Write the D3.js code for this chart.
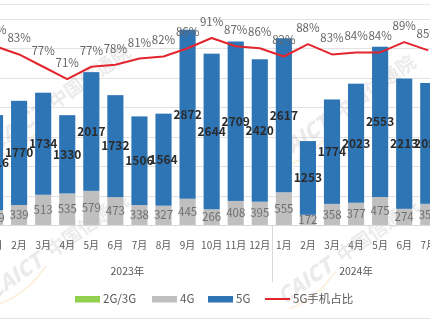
<!DOCTYPE html>
<html>
<head>
<meta charset="utf-8">
<script src="https://cdn.jsdelivr.net/npm/d3@7"></script>
<style>
  html, body { margin: 0; padding: 0; background: #fff; }
  svg { display: block; }
  text { font-family: "Noto Sans CJK SC", "Open Sans", sans-serif; }
</style>
</head>
<body>
<svg id="chart" width="430" height="325"></svg>
<script>
// Monthly domestic handset shipments (万部), Jan 2023 – Jul 2024
const years = ["2023年", "2024年"];
const months2023 = ["1月","2月","3月","4月","5月","6月","7月","8月","9月","10月","11月","12月"];
const months2024 = ["1月","2月","3月","4月","5月","6月","7月"];
const ship2G3G = [2, 1, 1, 1, 1, 1, 1, 1, 1, 1, 1, 1, 1, 1, 1, 1, 1, 1, 1];
const ship4G = [249, 339, 513, 535, 579, 473, 338, 327, 445, 266, 408, 395,
                555, 172, 358, 377, 475, 274, 359];
const ship5G = [1616, 1770, 1734, 1330, 2017, 1732, 1506, 1564, 2872, 2644, 2709, 2420,
                2617, 1253, 1774, 2023, 2553, 2213, 2053];
const share5G = [0.87, 0.83, 0.77, 0.71, 0.77, 0.78, 0.81, 0.82, 0.86, 0.91, 0.87, 0.86,
                 0.82, 0.88, 0.83, 0.84, 0.84, 0.89, 0.85];
const yTicks = [500, 1000, 1500, 2000, 2500, 3000, 3500];
const seriesNames = ["2G/3G", "4G", "5G"];
const lineName = "5G手机占比";

const colors = { "2G/3G": "#92d050", "4G": "#bfbfbf", "5G": "#2e75b6", line: "#e3262d" };

const months = months2023.map(m => ({ year: years[0], month: m }))
  .concat(months2024.map(m => ({ year: years[1], month: m })));
const rows = months.map((d, i) => ({
  i, year: d.year, month: d.month,
  "2G/3G": ship2G3G[i], "4G": ship4G[i], "5G": ship5G[i], share: share5G[i]
}));

const svg = d3.select("#chart");
const W = 430, H = 325;

// plot frame (the category band runs a little past both edges of the view)
const plot = { left: -17, right: 440.3, top: 19, bottom: 225 };

const x = d3.scaleBand()
  .domain(rows.map(d => d.i))
  .range([plot.left, plot.right])
  .paddingInner(0.33)
  .paddingOuter(0.165);
const y = d3.scaleLinear().domain([0, 3500]).range([plot.bottom, plot.top]);
const yPct = d3.scaleLinear().domain([0, 1]).range([plot.bottom, plot.top + 0.5]);

// outer frame lines
svg.append("line").attr("x1", 0).attr("x2", W).attr("y1", 4.5).attr("y2", 4.5)
  .attr("stroke", "#e8e8e8").attr("stroke-width", 1);
svg.append("line").attr("x1", 0).attr("x2", W).attr("y1", 318.5).attr("y2", 318.5)
  .attr("stroke", "#e4e4e4").attr("stroke-width", 1);

// horizontal gridlines
svg.append("g").selectAll("line").data(yTicks).join("line")
  .attr("x1", 0).attr("x2", W)
  .attr("y1", d => Math.round(y(d)) + 0.5).attr("y2", d => Math.round(y(d)) + 0.5)
  .attr("stroke", "#e3e3e3").attr("stroke-width", 1);

// watermark
const wm = svg.append("g").attr("opacity", 0.15);
const wmSpots = [[-4, 152], [-6, 300], [281, 162], [284, 305]];
wmSpots.forEach(([wx, wy]) => {
  const g = wm.append("g").attr("transform", `translate(${wx},${wy}) rotate(-35)`);
  g.append("text").text("CAICT").attr("x", 0).attr("y", 0)
    .attr("font-size", 21).attr("font-weight", 900).attr("font-style", "italic")
    .attr("fill", "#7a7a7a").attr("font-family", "Lato, sans-serif");
  g.append("text").text("中国信通院").attr("x", 72).attr("y", -1)
    .attr("font-size", 19).attr("font-weight", 700).attr("fill", "#7a7a7a");
  g.append("path").attr("d", "M2,6 Q30,14 62,2").attr("fill", "none")
    .attr("stroke", "#f0a040").attr("stroke-width", 2);
});

// stacked bars
const stack = d3.stack().keys(seriesNames)(rows);
svg.append("g").selectAll("g").data(stack).join("g")
  .attr("fill", s => colors[s.key])
  .selectAll("rect").data(s => s).join("rect")
  .attr("x", d => x(d.data.i))
  .attr("width", x.bandwidth())
  .attr("y", d => y(d[1]))
  .attr("height", d => Math.max(0, y(d[0]) - y(d[1])));

// category axis line
svg.append("line").attr("x1", 0).attr("x2", W)
  .attr("y1", plot.bottom + 0.5).attr("y2", plot.bottom + 0.5)
  .attr("stroke", "#d9d9d9");

// 4G value labels
const s4 = stack.find(s => s.key === "4G");
svg.append("g").selectAll("text").data(s4).join("text")
  .attr("x", d => x(d.data.i) + x.bandwidth() / 2)
  .attr("y", d => (y(d[0]) + y(d[1])) / 2)
  .attr("dy", "0.36em")
  .attr("text-anchor", "middle")
  .attr("font-size", 11.5).attr("fill", "#707070")
  .text(d => d.data["4G"]);

// 5G value labels
const s5 = stack.find(s => s.key === "5G");
svg.append("g").selectAll("text").data(s5).join("text")
  .attr("x", d => x(d.data.i) + x.bandwidth() / 2)
  .attr("y", d => (y(d[0]) + y(d[1])) / 2)
  .attr("dy", "0.36em")
  .attr("text-anchor", "middle")
  .attr("font-size", 12).attr("font-weight", 700).attr("fill", "#2b2b2b")
  .text(d => d.data["5G"]);

// 5G share line
const cx = d => x(d.i) + x.bandwidth() / 2;
svg.append("path").datum(rows)
  .attr("fill", "none").attr("stroke", colors.line).attr("stroke-width", 2)
  .attr("stroke-linejoin", "round")
  .attr("d", d3.line().x(cx).y(d => yPct(d.share)));

svg.append("g").selectAll("text").data(rows).join("text")
  .attr("x", cx)
  .attr("y", d => yPct(d.share) - 12)
  .attr("text-anchor", "middle")
  .attr("font-size", 11.5).attr("fill", "#666")
  .text(d => Math.round(d.share * 100) + "%");

// month tick labels
svg.append("g").selectAll("text").data(rows).join("text")
  .attr("x", cx).attr("y", 245).attr("dy", "0.35em")
  .attr("text-anchor", "middle")
  .attr("font-size", 10).attr("fill", "#595959")
  .text(d => d.month);

// year group labels and divider
const groups = d3.groups(rows, d => d.year);
groups.forEach(([yr, list]) => {
  const x0 = x(list[0].i) - x.step() * x.paddingInner() / 2;
  const x1 = x(list[list.length - 1].i) + x.bandwidth() + x.step() * x.paddingInner() / 2;
  svg.append("text").attr("x", (x0 + x1) / 2).attr("y", 271).attr("dy", "0.35em")
    .attr("text-anchor", "middle").attr("font-size", 10.5).attr("fill", "#595959")
    .text(yr);
  [x0, x1].forEach(xx => {
    svg.append("line").attr("x1", Math.round(xx) + 0.5).attr("x2", Math.round(xx) + 0.5)
      .attr("y1", plot.bottom).attr("y2", 282).attr("stroke", "#d9d9d9");
  });
});

// legend
const legend = svg.append("g").attr("font-size", 11.5).attr("fill", "#595959");
const legendItems = [
  { name: seriesNames[0], x: 75, type: "rect", color: colors["2G/3G"] },
  { name: seriesNames[1], x: 152, type: "rect", color: colors["4G"] },
  { name: seriesNames[2], x: 208, type: "rect", color: colors["5G"] },
  { name: lineName, x: 265, type: "line", color: colors.line }
];
legendItems.forEach(it => {
  if (it.type === "rect") {
    legend.append("rect").attr("x", it.x).attr("y", 296).attr("width", 25).attr("height", 6.5)
      .attr("fill", it.color);
  } else {
    legend.append("line").attr("x1", it.x).attr("x2", it.x + 25).attr("y1", 299).attr("y2", 299)
      .attr("stroke", it.color).attr("stroke-width", 2);
  }
  legend.append("text").attr("x", it.x + 28).attr("y", 299).attr("dy", "0.35em")
    .attr("fill", "#595959").text(it.name);
});
</script>
</body>
</html>
